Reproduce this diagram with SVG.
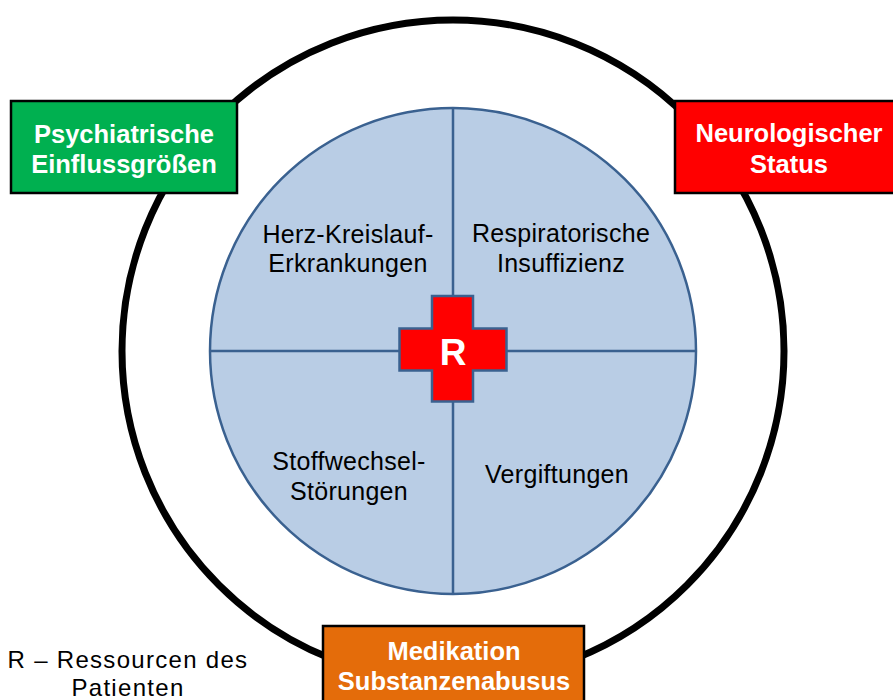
<svg xmlns="http://www.w3.org/2000/svg" width="893" height="700" viewBox="0 0 893 700">
<style>
.box{stroke:#000;stroke-width:2.5}
.bt{font-family:"Liberation Sans",Arial,sans-serif;font-weight:bold;font-size:25.5px;fill:#fff;text-anchor:middle}
.it{font-family:"Liberation Sans",Arial,sans-serif;font-size:25px;fill:#000;text-anchor:middle;letter-spacing:0.3px}
.lg{font-family:"Liberation Sans",Arial,sans-serif;font-size:24px;fill:#000;text-anchor:middle;letter-spacing:1.3px}
.div{stroke:#3A6190;stroke-width:2.5;fill:none}
</style>
<rect width="893" height="700" fill="#fff"/>
<g id="outer-ring"><circle cx="453" cy="351" r="331" fill="none" stroke="#000" stroke-width="7"/></g>
<g id="inner-circle">
<circle cx="453" cy="351" r="243" fill="#B9CDE5" stroke="#3A6190" stroke-width="2.5"/>
</g>
<g id="connectors">
<line class="div" x1="453" y1="108" x2="453" y2="594"/>
<line class="div" x1="210" y1="351" x2="696" y2="351"/>
</g>
<g id="q-herz"><text class="it" x="348" y="243">Herz-Kreislauf-</text><text class="it" x="348" y="272">Erkrankungen</text></g>
<g id="q-resp"><text class="it" x="561" y="242">Respiratorische</text><text class="it" x="561" y="272">Insuffizienz</text></g>
<g id="q-stoff"><text class="it" x="349" y="470">Stoffwechsel-</text><text class="it" x="349" y="500">Störungen</text></g>
<g id="q-verg"><text class="it" x="557" y="483">Vergiftungen</text></g>
<g id="cross">
<path d="M432,296 H473 V328.5 H506.5 V370.5 H473 V401.5 H432 V370.5 H399.5 V328.5 H432 Z" fill="#FF0000" stroke="#3A6190" stroke-width="2.5"/>
<text x="453" y="365" font-family="Liberation Sans,Arial,sans-serif" font-weight="bold" font-size="37" fill="#fff" text-anchor="middle">R</text>
</g>
<g id="psych">
<rect class="box" x="11" y="101" width="226" height="92" fill="#00B050"/>
<text class="bt" x="124" y="143">Psychiatrische</text><text class="bt" x="124" y="173">Einflussgrößen</text>
</g>
<g id="neuro">
<rect class="box" x="675" y="101" width="222" height="92" fill="#FF0000"/>
<text class="bt" x="789" y="142">Neurologischer</text><text class="bt" x="789" y="173">Status</text>
</g>
<g id="medikation">
<rect class="box" x="323" y="626" width="261" height="80" fill="#E46C0A"/>
<text class="bt" x="454" y="660">Medikation</text><text class="bt" x="454" y="690">Substanzenabusus</text>
</g>
<g id="legend">
<text class="lg" x="128" y="668">R – Ressourcen des</text>
<text class="lg" x="128" y="696">Patienten</text>
</g>
</svg>
